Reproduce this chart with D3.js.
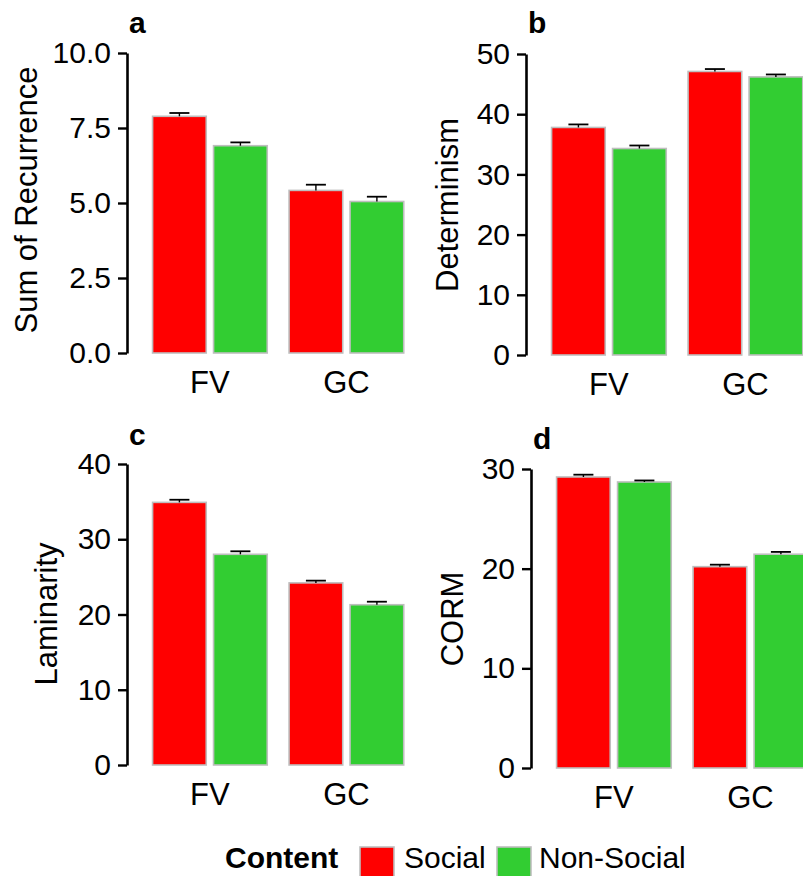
<!DOCTYPE html>
<html lang="en">
<head>
<meta charset="UTF-8">
<title>Recurrence measures</title>
<script src="https://d3js.org/d3.v7.min.js"></script>
<style>
  body { margin: 0; background: #fff; }
  svg { display: block; font-family: "Liberation Sans", Arial, sans-serif; }
</style>
</head>
<body>
<svg id="main" width="803" height="876"></svg>
<script>
// data
const groups = ['FV', 'GC'];
const contents = ['Social', 'Non-Social'];
const contentColors = ['#FF0000', '#32CD32'];

const recurrenceSocial = [7.89, 5.42];
const recurrenceNonSocial = [6.91, 5.05];
const recurrenceSocialSE = [0.11, 0.19];
const recurrenceNonSocialSE = [0.11, 0.16];
const recurrenceTicks = [0, 2.5, 5, 7.5, 10];

const determinismSocial = [37.8, 47.1];
const determinismNonSocial = [34.3, 46.2];
const determinismSocialSE = [0.5, 0.4];
const determinismNonSocialSE = [0.5, 0.4];
const determinismTicks = [0, 10, 20, 30, 40, 50];

const laminaritySocial = [34.9, 24.2];
const laminarityNonSocial = [28.0, 21.3];
const laminaritySocialSE = [0.35, 0.3];
const laminarityNonSocialSE = [0.4, 0.4];
const laminarityTicks = [0, 10, 20, 30, 40];

const cormSocial = [29.2, 20.2];
const cormNonSocial = [28.7, 21.45];
const cormSocialSE = [0.23, 0.2];
const cormNonSocialSE = [0.15, 0.23];
const cormTicks = [0, 10, 20, 30];

let svg = d3.select('#main');

const panels = [
    {tag: 'a', title: 'Sum of Recurrence', soc: recurrenceSocial, non: recurrenceNonSocial,
     socSE: recurrenceSocialSE, nonSE: recurrenceNonSocialSE, ticks: recurrenceTicks, fmt: '.1f',
     axisX: 127, top: 53, bottom: 353, titleX: 37, titleY: 200, tagY: 33},
    {tag: 'b', title: 'Determinism', soc: determinismSocial, non: determinismNonSocial,
     socSE: determinismSocialSE, nonSE: determinismNonSocialSE, ticks: determinismTicks, fmt: 'd',
     axisX: 526, top: 54, bottom: 355, titleX: 458, titleY: 205, tagY: 33},
    {tag: 'c', title: 'Laminarity', soc: laminaritySocial, non: laminarityNonSocial,
     socSE: laminaritySocialSE, nonSE: laminarityNonSocialSE, ticks: laminarityTicks, fmt: 'd',
     axisX: 127, top: 464, bottom: 765, titleX: 57, titleY: 614, tagY: 445},
    {tag: 'd', title: 'CORM', soc: cormSocial, non: cormNonSocial,
     socSE: cormSocialSE, nonSE: cormNonSocialSE, ticks: cormTicks, fmt: 'd',
     axisX: 531, top: 469, bottom: 768, titleX: 463, titleY: 619, tagY: 449}
];

panels.forEach(function (p) {
    let g = svg.append('g');
    let xScale = d3.scaleBand().domain(groups)
        .range([p.axisX + 1, p.axisX + 1 + 2.2 * 136.5])
        .paddingInner(0.16).paddingOuter(0.18);
    let xInner = d3.scaleBand().domain(contents)
        .range([0, xScale.bandwidth()]).paddingInner(0.12);
    let yScale = d3.scaleLinear()
        .domain([0, d3.max(p.ticks)])
        .range([p.bottom, p.top]);

    let rows = [];
    groups.forEach(function (grp, i) {
        rows.push({group: grp, content: contents[0], value: p.soc[i], se: p.socSE[i]});
        rows.push({group: grp, content: contents[1], value: p.non[i], se: p.nonSE[i]});
    });

    g.selectAll('rect.bar')
        .data(rows)
        .enter()
        .append('rect')
        .attr('class', 'bar')
        .attr('x', function (d) { return xScale(d.group) + xInner(d.content); })
        .attr('width', xInner.bandwidth())
        .attr('y', function (d) { return yScale(d.value); })
        .attr('height', function (d) { return yScale(0) - yScale(d.value); })
        .attr('fill', function (d) { return contentColors[contents.indexOf(d.content)]; })
        .attr('stroke', '#BEBEBE')
        .attr('stroke-width', 1.6);

    // error bars (upper half visible above bars)
    let cap = 20;
    let eb = g.selectAll('g.err')
        .data(rows)
        .enter()
        .append('g')
        .attr('class', 'err')
        .attr('transform', function (d) {
            return 'translate(' + (xScale(d.group) + xInner(d.content) + xInner.bandwidth() / 2) + ',0)';
        });
    eb.append('line')
        .attr('x1', 0).attr('x2', 0)
        .attr('y1', function (d) { return yScale(d.value); })
        .attr('y2', function (d) { return yScale(d.value + d.se); })
        .attr('stroke', '#000').attr('stroke-width', 1.4);
    eb.append('line')
        .attr('x1', -cap / 2).attr('x2', cap / 2)
        .attr('y1', function (d) { return yScale(d.value + d.se); })
        .attr('y2', function (d) { return yScale(d.value + d.se); })
        .attr('stroke', '#000').attr('stroke-width', 1.8);

    // y axis
    let yAxis = g.append('g')
        .attr('transform', 'translate(' + p.axisX + ',0)')
        .call(d3.axisLeft(yScale).tickValues(p.ticks)
            .tickFormat(d3.format(p.fmt)).tickSize(9).tickPadding(7).tickSizeOuter(0));
    yAxis.select('.domain').attr('stroke', '#000').attr('stroke-width', 2.6);
    yAxis.selectAll('.tick line').attr('stroke', '#000').attr('stroke-width', 2.4);
    yAxis.selectAll('.tick text')
        .attr('fill', '#000').style('font-size', '30px')
        .style('font-family', '"Liberation Sans", Arial, sans-serif');

    // x labels (no axis line)
    g.selectAll('text.xlab')
        .data(groups)
        .enter()
        .append('text')
        .attr('class', 'xlab')
        .attr('x', function (d) { return xScale(d) + xScale.bandwidth() / 2; })
        .attr('y', p.bottom + 40)
        .attr('text-anchor', 'middle')
        .style('font-size', '31px')
        .text(function (d) { return d; });

    // y title
    g.append('text')
        .attr('transform', 'translate(' + p.titleX + ',' + p.titleY + ') rotate(-90)')
        .attr('text-anchor', 'middle')
        .style('font-size', '31px')
        .text(p.title);

    // panel tag
    g.append('text')
        .attr('x', p.axisX + 2)
        .attr('y', p.tagY)
        .style('font-size', '30px')
        .style('font-weight', 'bold')
        .text(p.tag);
});

// legend
let legend = svg.append('g');
legend.append('text')
    .attr('x', 225).attr('y', 868)
    .style('font-size', '30px').style('font-weight', 'bold')
    .text('Content');
const legendKeyX = [360, 497];
const legendTextX = [404, 539];
let items = legend.selectAll('g.item')
    .data(contents)
    .enter()
    .append('g')
    .attr('class', 'item');
items.append('rect')
    .attr('x', function (d, i) { return legendKeyX[i]; })
    .attr('y', 847)
    .attr('width', 34).attr('height', 34)
    .attr('fill', function (d, i) { return contentColors[i]; })
    .attr('stroke', '#BEBEBE').attr('stroke-width', 1.6);
items.append('text')
    .attr('x', function (d, i) { return legendTextX[i]; })
    .attr('y', 868)
    .style('font-size', '30px')
    .text(function (d) { return d; });
</script>
</body>
</html>
